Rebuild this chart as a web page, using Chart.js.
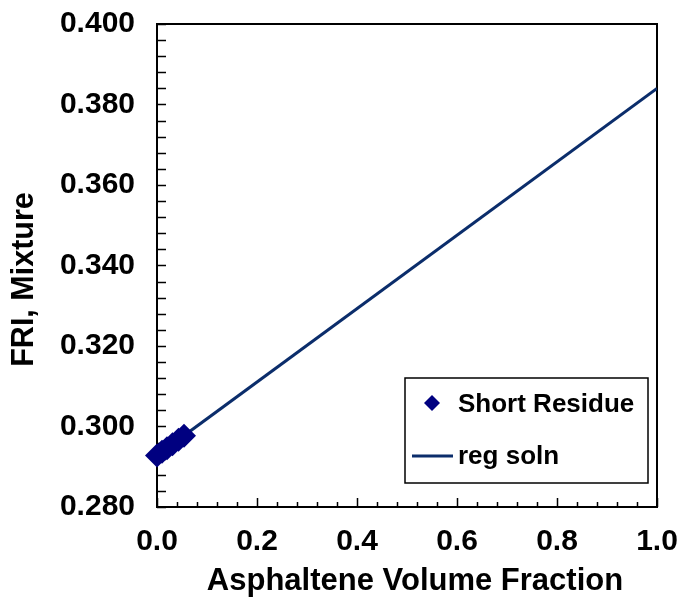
<!DOCTYPE html>
<html>
<head>
<meta charset="utf-8">
<script src="https://cdn.jsdelivr.net/npm/chart.js@4/dist/chart.umd.min.js"></script>
<style>
  html, body { margin: 0; padding: 0; background: #fff; }
  #wrap { width: 684px; height: 601px; position: relative; }
</style>
</head>
<body>
<div id="wrap"><canvas id="fri-chart"></canvas></div>
<script>
// Short Residue measurements (asphaltene volume fraction vs FRI of mixture)
let residueX = [0.000, 0.010, 0.020, 0.031, 0.043, 0.054];
let residueY = [0.2928, 0.2937, 0.2946, 0.2956, 0.2967, 0.2977];

// regression solution end points
let regX = [0.0, 1.0];
let regY = [0.2928, 0.3840];

// axis ranges / tick steps
let xTicks = [0.0, 0.2, 0.4, 0.6, 0.8, 1.0];
let yTicks = [0.280, 0.300, 0.320, 0.340, 0.360, 0.380, 0.400];
let xMinorStep = 0.04;
let yMinorStep = 0.004;

let xTitle = "Asphaltene Volume Fraction";
let yTitle = "FRI, Mixture";

let fontName = "'Liberation Sans', Arial, sans-serif";

// frame, inward tick marks, axis titles and the boxed legend
const frameAndLegend = {
  id: "frameAndLegend",
  beforeDatasetsDraw(chart) {
    let ctx = chart.ctx;
    let area = chart.chartArea;
    let xs = chart.scales.x;
    let ys = chart.scales.y;
    ctx.save();
    ctx.strokeStyle = "#000";

    // minor + major ticks, pointing into the plot
    ctx.lineWidth = 1.5;
    ctx.beginPath();
    for (let v = xTicks[0]; v <= xTicks[xTicks.length - 1] + 1e-9; v += xMinorStep) {
      let px = Math.round(xs.getPixelForValue(v)) + 0.5;
      let major = xTicks.some(t => Math.abs(t - v) < 1e-6);
      ctx.moveTo(px, area.bottom);
      ctx.lineTo(px, area.bottom - (major ? 9 : 5));
    }
    for (let v = yTicks[0]; v <= yTicks[yTicks.length - 1] + 1e-9; v += yMinorStep) {
      let py = Math.round(ys.getPixelForValue(v)) + 0.5;
      ctx.moveTo(area.left, py);
      ctx.lineTo(area.left + 9, py);
    }
    ctx.stroke();

    // plot box
    ctx.lineWidth = 2;
    ctx.strokeRect(area.left, area.top, area.right - area.left, area.bottom - area.top);

    // axis titles
    ctx.fillStyle = "#000";
    ctx.textAlign = "center";
    ctx.textBaseline = "middle";
    ctx.font = "bold 31px " + fontName;
    ctx.fillText(xTitle, (area.left + area.right) / 2 + 8, 581);
    ctx.translate(25, (area.top + area.bottom) / 2 + 14);
    ctx.rotate(-Math.PI / 2);
    ctx.font = "bold 30.5px " + fontName;
    ctx.fillText(yTitle, 0, 0);
    ctx.restore();
  },
  afterDraw(chart) {
    let ctx = chart.ctx;
    ctx.save();
    // legend box
    let lx = 405, ly = 378, lw = 243, lh = 105;
    ctx.fillStyle = "#fff";
    ctx.fillRect(lx, ly, lw, lh);
    ctx.strokeStyle = "#000";
    ctx.lineWidth = 1.5;
    ctx.strokeRect(lx, ly, lw, lh);

    // diamond marker
    ctx.fillStyle = "#000080";
    ctx.beginPath();
    ctx.moveTo(432, 395);
    ctx.lineTo(440, 403);
    ctx.lineTo(432, 411);
    ctx.lineTo(424, 403);
    ctx.closePath();
    ctx.fill();

    // line marker
    ctx.strokeStyle = "#0b2d6b";
    ctx.lineWidth = 3;
    ctx.beginPath();
    ctx.moveTo(412, 456);
    ctx.lineTo(453, 456);
    ctx.stroke();

    ctx.fillStyle = "#000";
    ctx.font = "bold 26px " + fontName;
    ctx.textBaseline = "middle";
    ctx.textAlign = "left";
    ctx.fillText("Short Residue", 458, 405);
    ctx.fillText("reg soln", 458, 457);
    ctx.restore();
  }
};

let chartCtx = document.getElementById("fri-chart").getContext("2d");
let friChart = new Chart(chartCtx, {
  type: "scatter",
  data: {
    datasets: [
      {
        label: "reg soln",
        type: "line",
        data: regX.map((x, i) => ({ x: x, y: regY[i] })),
        borderColor: "#0b2d6b",
        borderWidth: 3,
        pointRadius: 0,
        fill: false,
        order: 2
      },
      {
        label: "Short Residue",
        data: residueX.map((x, i) => ({ x: x, y: residueY[i] })),
        pointStyle: "rectRot",
        pointRadius: 12,
        backgroundColor: "#000080",
        borderColor: "#000080",
        borderWidth: 0,
        clip: false,
        order: 1
      }
    ]
  },
  options: {
    responsive: true,
    maintainAspectRatio: false,
    animation: false,
    layout: { padding: { top: 24, right: 27, left: 0, bottom: 0 } },
    plugins: {
      legend: { display: false },
      tooltip: { enabled: false }
    },
    scales: {
      x: {
        type: "linear",
        min: 0,
        max: 1,
        grid: { display: false, drawTicks: false },
        border: { display: false },
        ticks: {
          stepSize: 0.2,
          padding: 17,
          color: "#000",
          font: { family: fontName, size: 30, weight: "bold" },
          callback: v => v.toFixed(1)
        },
        afterFit: s => {
          s.height = 94;
          s.paddingLeft = 0;
          s.paddingRight = 0;
        }
      },
      y: {
        type: "linear",
        min: 0.28,
        max: 0.4,
        grid: { display: false, drawTicks: false },
        border: { display: false },
        ticks: {
          stepSize: 0.02,
          padding: 22,
          color: "#000",
          font: { family: fontName, size: 30, weight: "bold" },
          callback: v => v.toFixed(3)
        },
        afterFit: s => {
          s.width = 157;
          s.paddingTop = 0;
          s.paddingBottom = 0;
        }
      }
    }
  },
  plugins: [frameAndLegend]
});
</script>
</body>
</html>
